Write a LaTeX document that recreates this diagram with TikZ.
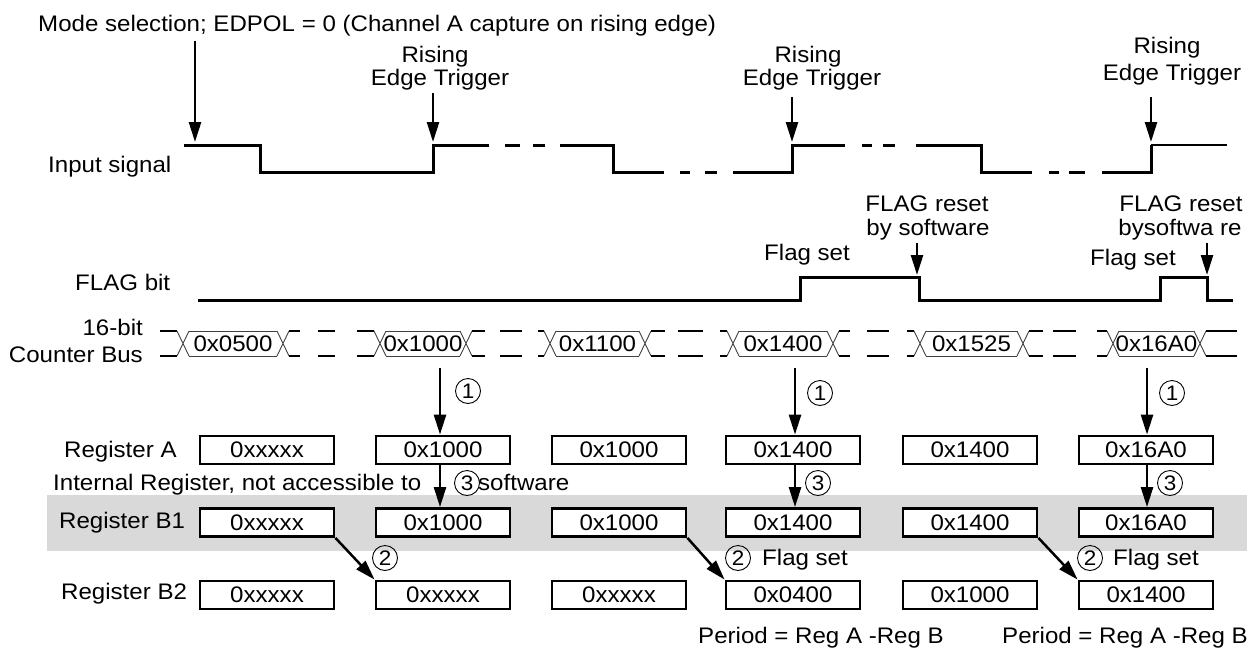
\documentclass[tikz,border=0pt]{standalone}
\usepackage{fontspec}
\setmainfont{Liberation Sans}[FakeStretch=1.07]
\usetikzlibrary{arrows.meta}
\newcommand{\fs}{\fontsize{22.5}{25}\selectfont}
\definecolor{band}{RGB}{217,217,217}
\begin{document}
\begin{tikzpicture}[x=1pt,y=-1pt,
  sig/.style={line width=3pt},
  sigthin/.style={line width=2pt},
  stub/.style={line width=2pt},
  hexl/.style={line width=0.9pt,black!75},
  arr/.style={line width=2.5pt,-{Triangle[length=20pt,width=12pt]}},
  lbl/.style={inner sep=0pt,font=\fs},
  reg/.style={draw,fill=white,line width=2.8pt,minimum width=134pt,minimum height=28pt,inner sep=0pt,font=\fs},
  num/.style={draw,circle,line width=0.9pt,minimum size=25pt,inner sep=0pt,font=\fontsize{21}{21}\selectfont}]
\useasboundingbox (0,0) rectangle (1247,648);
% grey band
\fill[band] (47,495) rectangle (1247,551);

% ---- title and input signal
\node[lbl,anchor=base west] (title) at (38,31) {Mode selection; EDPOL = 0 (Channel A capture on rising edge)};
\node[lbl,anchor=base west] (insig) at (48,172) {Input signal};
\node[lbl,anchor=base] (r1a) at (435,62) {Rising};
\node[lbl,anchor=base] (r1b) at (440,85) {Edge Trigger};
\node[lbl,anchor=base] (r2a) at (808,62) {Rising};
\node[lbl,anchor=base] (r2b) at (812,85) {Edge Trigger};
\node[lbl,anchor=base] (r3a) at (1167,53) {Rising};
\node[lbl,anchor=base] (r3b) at (1172,80) {Edge Trigger};

\coordinate (m0) at (195,41);   \coordinate (m1) at (195,142);
\coordinate (t1) at (433,93);   \coordinate (t1e) at (433,142);
\coordinate (t2) at (792,97);   \coordinate (t2e) at (792,142);
\coordinate (t3) at (1151,97);  \coordinate (t3e) at (1151,142);
\draw[arr] (m0) -- (m1);
\draw[arr] (t1) -- (t1e);
\draw[arr] (t2) -- (t2e);
\draw[arr] (t3) -- (t3e);

\draw[sig] (184,145) -- (260,145) -- (260,172) -- (433,172) -- (433,145) -- (489,145);
\draw[sig] (505,145) -- (520,145) (533,145) -- (545,145);
\draw[sig] (560,145) -- (613,145) -- (613,172) -- (664,172);
\draw[sig] (680,172) -- (690,172) (705,172) -- (717,172);
\draw[sig] (733,172) -- (792,172) -- (792,145) -- (845,145);
\draw[sig] (862,145) -- (872,145) (883,145) -- (895,145);
\draw[sig] (916,145) -- (981,145) -- (981,172) -- (1032,172);
\draw[sig] (1049,172) -- (1059,172) (1069,172) -- (1085,172);
\draw[sig] (1102,172) -- (1151,172) -- (1151,145);
\draw[sigthin] (1151,145) -- (1227,145);

% ---- FLAG bit
\node[lbl,anchor=base west] (flagbit) at (75,290) {FLAG bit};
\node[lbl,anchor=base west] (fs1) at (764,260) {Flag set};
\node[lbl,anchor=base west] (fs2) at (1090,265) {Flag set};
\node[lbl,anchor=base] (fr1a) at (927,211) {FLAG reset};
\node[lbl,anchor=base] (fr1b) at (928,235) {by software};
\node[lbl,anchor=base] (fr2a) at (1181,211) {FLAG reset};
\node[lbl,anchor=base] (fr2b) at (1180,235) {bysoftwa re};
\coordinate (f1) at (917,243);  \coordinate (f1e) at (917,275);
\coordinate (f2) at (1207,243); \coordinate (f2e) at (1207,275);
\draw[arr] (f1) -- (f1e);
\draw[arr] (f2) -- (f2e);
\draw[sig] (198,300) -- (800,300) -- (800,277) -- (919,277) -- (919,300) -- (1160,300) -- (1160,277) -- (1207,277) -- (1207,300) -- (1233,300);

% ---- counter bus
\node[lbl,anchor=base east] (bus16) at (143,335) {16-bit};
\node[lbl,anchor=base east] (busname) at (143,362) {Counter Bus};
\foreach \a/\b/\v/\l/\r [count=\i] in {183/283/0x0500/160/300, 380/466/0x1000/357/485, 550/645/0x1100/538/665, 733/833/0x1400/720/850, 920/1023/0x1525/907/1043, 1113/1200/0x16A0/1097/1237} {
  \draw[stub] (\l,331) -- (\a-6,331) (\l,356) -- (\a-6,356);
  \draw[hexl] (\a-6,331) -- (\a+6,356) (\a-6,356) -- (\a+6,331);
  \draw[hexl] (\a+6,331) -- (\b-6,331) (\a+6,356) -- (\b-6,356);
  \draw[hexl] (\b-6,331) -- (\b+6,356) (\b-6,356) -- (\b+6,331);
  \draw[stub] (\b+6,331) -- (\r,331) (\b+6,356) -- (\r,356);
  \node[lbl] (bus\i) at ({(\a+\b)/2},343.5) {\v};
}
\foreach \p/\q in {318/335, 500/522, 678/703, 867/889, 1053/1076} {
  \draw[stub] (\p,331) -- (\q,331) (\p,356) -- (\q,356);
}

% ---- registers
\node[lbl,anchor=base west] (ra) at (64,457) {Register A};
\node[lbl,anchor=base west] (rb1) at (59,528) {Register B1};
\node[lbl,anchor=base west] (rb2) at (61,599) {Register B2};
\node[lbl,anchor=base west] (intreg) at (53,490) {Internal Register, not accessible to};
\node[lbl,anchor=base west] (sw) at (478,490) {software};

\foreach \x/\va/\vb/\vc [count=\i] in {267/0xxxxx/0xxxxx/0xxxxx, 443/0x1000/0x1000/0xxxxx, 619/0x1000/0x1000/0xxxxx, 793/0x1400/0x1400/0x0400, 970/0x1400/0x1400/0x1000, 1146/0x16A0/0x16A0/0x1400} {
  \node[reg] (A\i) at (\x,450) {\va};
  \node[reg] (B\i) at (\x,522.5) {\vb};
  \node[reg] (C\i) at (\x,595) {\vc};
}

% capture arrows (1) and (3)
\coordinate (k1) at (440,368);
\coordinate (k2) at (795,368);
\coordinate (k3) at (1147,368);
\draw[arr] (k1) -- (k1 |- A2.north);
\draw[arr] (k2) -- (k2 |- A4.north);
\draw[arr] (k3) -- (k3 |- A6.north);
\draw[arr] (k1 |- A2.south) -- (k1 |- B2.north);
\draw[arr] (k2 |- A4.south) -- (k2 |- B4.north);
\draw[arr] (k3 |- A6.south) -- (k3 |- B6.north);
% transfer arrows (2)
\draw[arr] (B1.south east) -- (C2.north west);
\draw[arr] (B3.south east) -- (C4.north west);
\draw[arr] (B5.south east) -- (C6.north west);

\node[num] (n1a) at (468,391) {1};
\node[num] (n1b) at (820,393) {1};
\node[num] (n1c) at (1172,393) {1};
\node[num] (n3a) at (467,483) {3};
\node[num] (n3b) at (818,483) {3};
\node[num] (n3c) at (1170,483) {3};
\node[num] (n2a) at (385,558) {2};
\node[num] (n2b) at (738,558) {2};
\node[num] (n2c) at (1090,558) {2};

\node[lbl,anchor=base west] (fs3) at (762,565) {Flag set};
\node[lbl,anchor=base west] (fs4) at (1113,565) {Flag set};
\node[lbl,anchor=base west] (per1) at (698,643) {Period = Reg A -Reg B};
\node[lbl,anchor=base west] (per2) at (1002,643) {Period = Reg A -Reg B};
\end{tikzpicture}
\end{document}
